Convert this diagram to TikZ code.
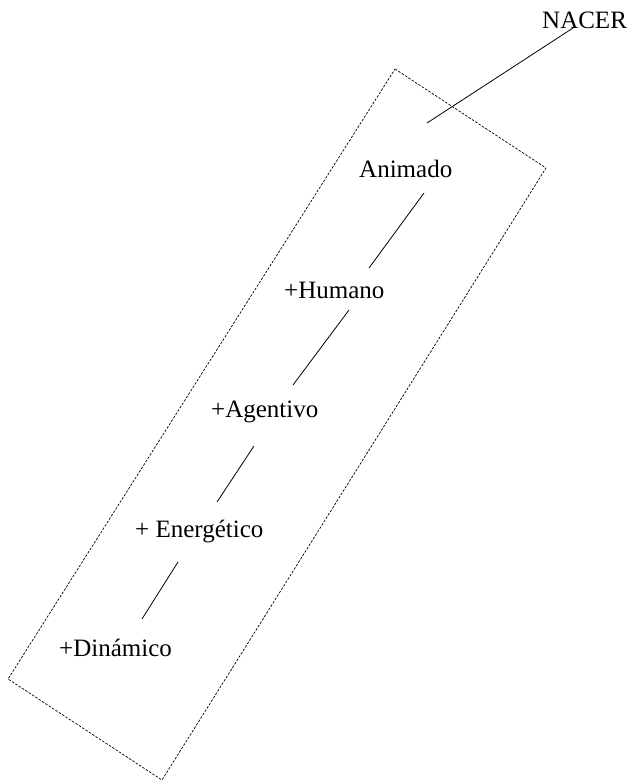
\documentclass[tikz,border=0pt]{standalone}
\usepackage{fontspec}
\setmainfont{Liberation Serif}
\begin{document}
\begin{tikzpicture}[x=1pt,y=-1pt,
  lbl/.style={inner sep=0pt, anchor=base west, font=\fontsize{25}{29}\selectfont},
  link/.style={line width=0.8pt},
  frame/.style={line width=0.7pt, dash pattern=on 2.5pt off 1.5pt}]
\useasboundingbox (0,0) rectangle (631,782);
\node[lbl] (nacer) at (542,28) {NACER};
\node[lbl] (anim) at (359,177) {Animado};
\node[lbl] (hum) at (284,298) {+Humano};
\node[lbl] (agent) at (211,417) {+Agentivo};
\node[lbl] (ener) at (135,537) {+ Energético};
\node[lbl] (din) at (59,656) {+Dinámico};
\draw[frame] (395,69) -- (546,168) -- (162,780) -- (8,679) -- cycle;
\draw[link] ([shift={(31,0)}]nacer.base west) -- ([shift={(68,-54)}]anim.base west);
\draw[link] ([shift={(65,16)}]anim.base west) -- ([shift={(85,-30)}]hum.base west);
\draw[link] ([shift={(65,12)}]hum.base west) -- ([shift={(82,-32)}]agent.base west);
\draw[link] ([shift={(43,29)}]agent.base west) -- ([shift={(82,-35)}]ener.base west);
\draw[link] ([shift={(43,25)}]ener.base west) -- ([shift={(83,-37)}]din.base west);
\end{tikzpicture}
\end{document}
